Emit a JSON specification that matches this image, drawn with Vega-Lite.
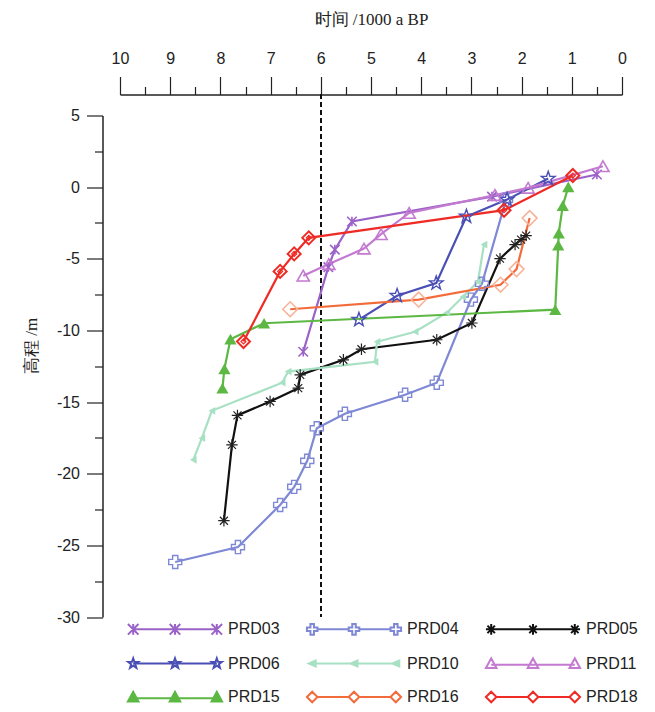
{
  "$schema": "https://vega.github.io/schema/vega-lite/v6.json",
  "width": 502,
  "height": 501.5,
  "autosize": "none",
  "padding": {"left": 120, "top": 115.5, "right": 33, "bottom": 95},
  "background": "white",
  "config": {
    "view": {"stroke": null},
    "axis": {"domainColor": "#222", "tickColor": "#222", "labelColor": "#222", "titleColor": "#222", "grid": false, "domainWidth": 1.5, "tickWidth": 1.2}
  },
  "resolve": {"axis": {"x": "independent", "y": "independent"}},
  "data": {
    "values": [
      {"s": "PRD03", "i": 1, "t": 6.35, "h": -11.49},
      {"s": "PRD03", "i": 2, "t": 5.85, "h": -5.58},
      {"s": "PRD03", "i": 3, "t": 5.72, "h": -4.36},
      {"s": "PRD03", "i": 4, "t": 5.38, "h": -2.4},
      {"s": "PRD03", "i": 5, "t": 2.59, "h": -0.66},
      {"s": "PRD03", "i": 6, "t": 0.5, "h": 0.88},
      {"s": "PRD04", "i": 1, "t": 8.9, "h": -26.16},
      {"s": "PRD04", "i": 2, "t": 7.65, "h": -25.12},
      {"s": "PRD04", "i": 3, "t": 6.81, "h": -22.18},
      {"s": "PRD04", "i": 4, "t": 6.53, "h": -20.92},
      {"s": "PRD04", "i": 5, "t": 6.27, "h": -19.1},
      {"s": "PRD04", "i": 6, "t": 6.08, "h": -16.83},
      {"s": "PRD04", "i": 7, "t": 5.52, "h": -15.82},
      {"s": "PRD04", "i": 8, "t": 4.32, "h": -14.49},
      {"s": "PRD04", "i": 9, "t": 3.69, "h": -13.65},
      {"s": "PRD04", "i": 10, "t": 3.01, "h": -7.85},
      {"s": "PRD04", "i": 11, "t": 2.79, "h": -6.74},
      {"s": "PRD04", "i": 12, "t": 2.31, "h": -0.87},
      {"s": "PRD05", "i": 1, "t": 7.93, "h": -23.28},
      {"s": "PRD05", "i": 2, "t": 7.77, "h": -17.99},
      {"s": "PRD05", "i": 3, "t": 7.66, "h": -15.93},
      {"s": "PRD05", "i": 4, "t": 7.01, "h": -14.96},
      {"s": "PRD05", "i": 5, "t": 6.45, "h": -14.03},
      {"s": "PRD05", "i": 6, "t": 6.41, "h": -13.1},
      {"s": "PRD05", "i": 7, "t": 5.55, "h": -12.05},
      {"s": "PRD05", "i": 8, "t": 5.19, "h": -11.31},
      {"s": "PRD05", "i": 9, "t": 3.69, "h": -10.65},
      {"s": "PRD05", "i": 10, "t": 2.99, "h": -9.48},
      {"s": "PRD05", "i": 11, "t": 2.43, "h": -4.99},
      {"s": "PRD05", "i": 12, "t": 2.13, "h": -4.01},
      {"s": "PRD05", "i": 13, "t": 2.01, "h": -3.66},
      {"s": "PRD05", "i": 14, "t": 1.91, "h": -3.38},
      {"s": "PRD06", "i": 1, "t": 5.24, "h": -9.25},
      {"s": "PRD06", "i": 2, "t": 4.48, "h": -7.58},
      {"s": "PRD06", "i": 3, "t": 3.7, "h": -6.7},
      {"s": "PRD06", "i": 4, "t": 3.1, "h": -2.05},
      {"s": "PRD06", "i": 5, "t": 2.29, "h": -0.87},
      {"s": "PRD06", "i": 6, "t": 1.47, "h": 0.6},
      {"s": "PRD10", "i": 1, "t": 8.54, "h": -19.03},
      {"s": "PRD10", "i": 2, "t": 8.37, "h": -17.52},
      {"s": "PRD10", "i": 3, "t": 8.17, "h": -15.61},
      {"s": "PRD10", "i": 4, "t": 6.77, "h": -13.65},
      {"s": "PRD10", "i": 5, "t": 6.65, "h": -12.87},
      {"s": "PRD10", "i": 6, "t": 4.92, "h": -12.19},
      {"s": "PRD10", "i": 7, "t": 4.88, "h": -10.79},
      {"s": "PRD10", "i": 8, "t": 4.12, "h": -10.09},
      {"s": "PRD10", "i": 9, "t": 3.49, "h": -8.76},
      {"s": "PRD10", "i": 10, "t": 3.17, "h": -7.65},
      {"s": "PRD10", "i": 11, "t": 2.87, "h": -6.6},
      {"s": "PRD10", "i": 12, "t": 2.75, "h": -4.01},
      {"s": "PRD11", "i": 1, "t": 6.35, "h": -6.18},
      {"s": "PRD11", "i": 2, "t": 5.84, "h": -5.37},
      {"s": "PRD11", "i": 3, "t": 5.14, "h": -4.29},
      {"s": "PRD11", "i": 4, "t": 4.8, "h": -3.28},
      {"s": "PRD11", "i": 5, "t": 4.24, "h": -1.8},
      {"s": "PRD11", "i": 6, "t": 2.53, "h": -0.55},
      {"s": "PRD11", "i": 7, "t": 1.87, "h": -0.05},
      {"s": "PRD11", "i": 8, "t": 0.38, "h": 1.46},
      {"s": "PRD15", "i": 1, "t": 7.96, "h": -14.04},
      {"s": "PRD15", "i": 2, "t": 7.92, "h": -12.68},
      {"s": "PRD15", "i": 3, "t": 7.8, "h": -10.61},
      {"s": "PRD15", "i": 4, "t": 7.13, "h": -9.5},
      {"s": "PRD15", "i": 5, "t": 1.33, "h": -8.55},
      {"s": "PRD15", "i": 6, "t": 1.27, "h": -4.05},
      {"s": "PRD15", "i": 7, "t": 1.26, "h": -3.21},
      {"s": "PRD15", "i": 8, "t": 1.18, "h": -1.29},
      {"s": "PRD15", "i": 9, "t": 1.07, "h": 0.02},
      {"s": "PRD16", "i": 1, "t": 6.61, "h": -8.52},
      {"s": "PRD16", "i": 2, "t": 4.05, "h": -7.85},
      {"s": "PRD16", "i": 3, "t": 2.42, "h": -6.81},
      {"s": "PRD16", "i": 4, "t": 2.1, "h": -5.72},
      {"s": "PRD16", "i": 5, "t": 1.84, "h": -2.16},
      {"s": "PRD18", "i": 1, "t": 7.54, "h": -10.77},
      {"s": "PRD18", "i": 2, "t": 6.81, "h": -5.88},
      {"s": "PRD18", "i": 3, "t": 6.53, "h": -4.66},
      {"s": "PRD18", "i": 4, "t": 6.24, "h": -3.54},
      {"s": "PRD18", "i": 5, "t": 2.35, "h": -1.61},
      {"s": "PRD18", "i": 6, "t": 0.98, "h": 0.81}
    ]
  },
  "layer": [
    {
      "mark": {"type": "rule", "color": "#111", "strokeWidth": 1.5, "strokeDash": [5, 3]},
      "encoding": {
        "x": {"datum": 6, "type": "quantitative", "axis": null},
        "y": {"datum": 6.5, "type": "quantitative", "axis": null},
        "y2": {"datum": -30}
      }
    },
    {
      "mark": {"type": "line", "strokeWidth": 2.2},
      "encoding": {
        "x": {
          "field": "t", "type": "quantitative",
          "scale": {"domain": [0, 10], "reverse": true, "nice": false, "zero": false},
          "axis": {
            "orient": "top", "offset": 21,
            "values": [0, 1, 2, 3, 4, 5, 6, 7, 8, 9, 10],
            "labelExpr": "'' + datum.value",
            "tickSize": 18,
            "labelFont": "Liberation Sans", "labelFontSize": 16, "labelPadding": 10,
            "labelFlush": false, "labelOverlap": false,
            "title": "时间 /1000 a BP", "titleFont": "Liberation Serif", "titleFontSize": 17,
            "titleFontWeight": "normal", "titlePadding": 22
          }
        },
        "y": {
          "field": "h", "type": "quantitative",
          "scale": {"domain": [-30, 5], "nice": false, "zero": false},
          "axis": {
            "orient": "left", "offset": 17.5,
            "values": [-30, -25, -20, -15, -10, -5, 0, 5],
            "labelExpr": "'' + datum.value",
            "tickSize": 16,
            "labelFont": "Liberation Sans", "labelFontSize": 16, "labelPadding": 7,
            "labelOverlap": false,
            "title": "高程 /m", "titleFont": "Liberation Serif", "titleFontSize": 17,
            "titleFontWeight": "normal", "titlePadding": 16, "titleY": 230
          }
        },
        "order": {"field": "i", "type": "quantitative"},
        "color": {
          "field": "s", "type": "nominal", "legend": null,
          "scale": {
            "domain": ["PRD18", "PRD16", "PRD15", "PRD11", "PRD10", "PRD06", "PRD05", "PRD04", "PRD03"],
            "range": ["#ee2b25", "#f26b3a", "#5cb843", "#c37ad0", "#a8e0c4", "#4a4fb5", "#111111", "#7f88d4", "#9b62c8"]
          }
        }
      }
    },
    {
      "transform": [{"filter": "datum.s === 'PRD03'"}],
      "mark": {"type": "point", "shape": "M-1,-1L1,1M-1,1L1,-1M0,-1L0,1", "size": 90, "filled": false, "stroke": "#9b62c8", "strokeWidth": 1.6, "opacity": 1},
      "encoding": {"x": {"field": "t", "type": "quantitative", "axis": null}, "y": {"field": "h", "type": "quantitative", "axis": null}}
    },
    {
      "transform": [{"filter": "datum.s === 'PRD04'"}],
      "mark": {"type": "point", "shape": "cross", "size": 170, "filled": false, "stroke": "#7f88d4", "strokeWidth": 1.4, "opacity": 1},
      "encoding": {"x": {"field": "t", "type": "quantitative", "axis": null}, "y": {"field": "h", "type": "quantitative", "axis": null}}
    },
    {
      "transform": [{"filter": "datum.s === 'PRD05'"}],
      "mark": {"type": "point", "shape": "M-1,0L1,0M0,-1L0,1M-0.7,-0.7L0.7,0.7M-0.7,0.7L0.7,-0.7", "size": 130, "filled": false, "stroke": "#222", "strokeWidth": 1.2, "opacity": 1},
      "encoding": {"x": {"field": "t", "type": "quantitative", "axis": null}, "y": {"field": "h", "type": "quantitative", "axis": null}}
    },
    {
      "transform": [{"filter": "datum.s === 'PRD06'"}],
      "mark": {"type": "point", "shape": "M0,-1L0.235,-0.324L0.951,-0.309L0.38,0.124L0.588,0.809L0,0.4L-0.588,0.809L-0.38,0.124L-0.951,-0.309L-0.235,-0.324Z", "size": 210, "filled": false, "stroke": "#4a4fb5", "strokeWidth": 1.4, "opacity": 1},
      "encoding": {"x": {"field": "t", "type": "quantitative", "axis": null}, "y": {"field": "h", "type": "quantitative", "axis": null}}
    },
    {
      "transform": [{"filter": "datum.s === 'PRD10'"}],
      "mark": {"type": "point", "shape": "triangle-left", "size": 60, "filled": true, "color": "#a8e0c4", "opacity": 1},
      "encoding": {"x": {"field": "t", "type": "quantitative", "axis": null}, "y": {"field": "h", "type": "quantitative", "axis": null}}
    },
    {
      "transform": [{"filter": "datum.s === 'PRD11'"}],
      "mark": {"type": "point", "shape": "triangle-up", "size": 150, "filled": false, "stroke": "#c37ad0", "strokeWidth": 1.6, "opacity": 1},
      "encoding": {"x": {"field": "t", "type": "quantitative", "axis": null}, "y": {"field": "h", "type": "quantitative", "axis": null}}
    },
    {
      "transform": [{"filter": "datum.s === 'PRD15'"}],
      "mark": {"type": "point", "shape": "triangle-up", "size": 150, "filled": true, "color": "#5cb843", "opacity": 1},
      "encoding": {"x": {"field": "t", "type": "quantitative", "axis": null}, "y": {"field": "h", "type": "quantitative", "axis": null}}
    },
    {
      "transform": [{"filter": "datum.s === 'PRD16'"}],
      "mark": {"type": "point", "shape": "diamond", "size": 220, "filled": false, "stroke": "#f7b49a", "strokeWidth": 1.6, "opacity": 1},
      "encoding": {"x": {"field": "t", "type": "quantitative", "axis": null}, "y": {"field": "h", "type": "quantitative", "axis": null}}
    },
    {
      "transform": [{"filter": "datum.s === 'PRD18'"}],
      "mark": {"type": "point", "shape": "diamond", "size": 170, "filled": false, "stroke": "#ee2b25", "strokeWidth": 2, "opacity": 1},
      "encoding": {"x": {"field": "t", "type": "quantitative", "axis": null}, "y": {"field": "h", "type": "quantitative", "axis": null}}
    },
    {
      "transform": [{"filter": "datum.s === 'PRD18'"}],
      "mark": {"type": "point", "shape": "diamond", "size": 25, "filled": false, "stroke": "#ee2b25", "strokeWidth": 1.2, "opacity": 1},
      "encoding": {"x": {"field": "t", "type": "quantitative", "axis": null}, "y": {"field": "h", "type": "quantitative", "axis": null}}
    },
    {
      "transform": [{"filter": "datum.i < 0"}],
      "mark": {"type": "point", "opacity": 1, "filled": true, "strokeWidth": 2},
      "encoding": {
        "x": {"field": "t", "type": "quantitative",
          "axis": {"orient": "top", "offset": 21, "values": [0.5, 1.5, 2.5, 3.5, 4.5, 5.5, 6.5, 7.5, 8.5, 9.5], "labels": false, "domain": false, "tickSize": 8, "title": null}},
        "y": {"field": "h", "type": "quantitative",
          "axis": {"orient": "left", "offset": 17.5, "values": [-27.5, -22.5, -17.5, -12.5, -7.5, -2.5, 2.5], "labels": false, "domain": false, "tickSize": 8, "title": null}},
        "shape": {
          "field": "s", "type": "nominal",
          "scale": {
            "domain": ["PRD03", "PRD06", "PRD15", "PRD04", "PRD10", "PRD16", "PRD05", "PRD11", "PRD18"],
            "range": [
              "M-7.6,0L7.6,0M-8.56,-0.96L-6.64,0.96M-8.56,0.96L-6.64,-0.96M-7.6,-0.96L-7.6,0.96M-0.96,-0.96L0.96,0.96M-0.96,0.96L0.96,-0.96M0,-0.96L0,0.96M6.64,-0.96L8.56,0.96M6.64,0.96L8.56,-0.96M7.6,-0.96L7.6,0.96",
              "M-7.6,0L7.6,0M-7.6,-0.96L-7.376,-0.312L-6.688,-0.296L-7.232,0.12L-7.032,0.776L-7.6,0.384L-8.168,0.776L-7.968,0.12L-8.512,-0.296L-7.824,-0.312ZM0,-0.96L0.224,-0.312L0.912,-0.296L0.368,0.12L0.568,0.776L0,0.384L-0.568,0.776L-0.368,0.12L-0.912,-0.296L-0.224,-0.312ZM7.6,-0.96L7.824,-0.312L8.512,-0.296L7.968,0.12L8.168,0.776L7.6,0.384L7.032,0.776L7.232,0.12L6.688,-0.296L7.376,-0.312Z",
              "M-7.6,0.24L7.6,0.24M-8.56,0.8L-6.64,0.8L-7.6,-0.96ZM-0.96,0.8L0.96,0.8L0,-0.96ZM6.64,0.8L8.56,0.8L7.6,-0.96Z",
              "M-6.64,0L-0.96,0M0.96,0L6.64,0M-7.92,-0.96L-7.28,-0.96L-7.28,-0.32L-6.64,-0.32L-6.64,0.32L-7.28,0.32L-7.28,0.96L-7.92,0.96L-7.92,0.32L-8.56,0.32L-8.56,-0.32L-7.92,-0.32ZM-0.32,-0.96L0.32,-0.96L0.32,-0.32L0.96,-0.32L0.96,0.32L0.32,0.32L0.32,0.96L-0.32,0.96L-0.32,0.32L-0.96,0.32L-0.96,-0.32L-0.32,-0.32ZM7.28,-0.96L7.92,-0.96L7.92,-0.32L8.56,-0.32L8.56,0.32L7.92,0.32L7.92,0.96L7.28,0.96L7.28,0.32L6.64,0.32L6.64,-0.32L7.28,-0.32Z",
              "M-7.6,0L7.6,0M-6.96,-0.56L-6.96,0.56L-8.24,0ZM0.64,-0.56L0.64,0.56L-0.64,0ZM8.24,-0.56L8.24,0.56L6.96,0Z",
              "M-6.64,0L-0.96,0M0.96,0L6.64,0M-8.56,0L-7.6,-0.96L-6.64,0L-7.6,0.96ZM-0.96,0L0,-0.96L0.96,0L0,0.96ZM6.64,0L7.6,-0.96L8.56,0L7.6,0.96Z",
              "M-8.56,0L8.56,0M-7.6,-0.96L-7.6,0.96M-8.28,-0.68L-6.92,0.68M-8.28,0.68L-6.92,-0.68M0,-0.96L0,0.96M-0.68,-0.68L0.68,0.68M-0.68,0.68L0.68,-0.68M7.6,-0.96L7.6,0.96M6.92,-0.68L8.28,0.68M6.92,0.68L8.28,-0.68",
              "M-7.6,0.24L7.6,0.24M-8.56,0.8L-6.64,0.8L-7.6,-0.96ZM-0.96,0.8L0.96,0.8L0,-0.96ZM6.64,0.8L8.56,0.8L7.6,-0.96Z",
              "M-6.64,0L-0.96,0M0.96,0L6.64,0M-8.56,0L-7.6,-0.96L-6.64,0L-7.6,0.96ZM-0.96,0L0,-0.96L0.96,0L0,0.96ZM6.64,0L7.6,-0.96L8.56,0L7.6,0.96Z"
            ]
          },
          "legend": {"title": null, "orient": "none", "legendX": 8, "legendY": 505.5, "padding": 0, "columns": 3, "symbolSize": 121, "symbolStrokeWidth": 2, "symbolOffset": 39, "labelFont": "Liberation Sans", "labelFontSize": 16, "labelColor": "#222", "labelOffset": 45, "columnPadding": 22, "rowPadding": 14.5}
        },
        "stroke": {
          "field": "s", "type": "nominal",
          "scale": {
            "domain": ["PRD03", "PRD06", "PRD15", "PRD04", "PRD10", "PRD16", "PRD05", "PRD11", "PRD18"],
            "range": ["#9b62c8", "#4a4fb5", "#5cb843", "#7f88d4", "#a8e0c4", "#f26b3a", "#111111", "#c37ad0", "#ee2b25"]
          },
          "legend": {"title": null, "orient": "none", "legendX": 8, "legendY": 505.5, "padding": 0, "columns": 3, "symbolSize": 121, "symbolStrokeWidth": 2, "symbolOffset": 39, "labelFont": "Liberation Sans", "labelFontSize": 16, "labelColor": "#222", "labelOffset": 45, "columnPadding": 22, "rowPadding": 14.5}
        },
        "fill": {
          "field": "s", "type": "nominal",
          "scale": {
            "domain": ["PRD03", "PRD06", "PRD15", "PRD04", "PRD10", "PRD16", "PRD05", "PRD11", "PRD18"],
            "range": ["transparent", "transparent", "#5cb843", "transparent", "#a8e0c4", "transparent", "transparent", "transparent", "transparent"]
          },
          "legend": {"title": null, "orient": "none", "legendX": 8, "legendY": 505.5, "padding": 0, "columns": 3, "symbolSize": 121, "symbolStrokeWidth": 2, "symbolOffset": 39, "labelFont": "Liberation Sans", "labelFontSize": 16, "labelColor": "#222", "labelOffset": 45, "columnPadding": 22, "rowPadding": 14.5}
        }
      }
    }
  ]
}
